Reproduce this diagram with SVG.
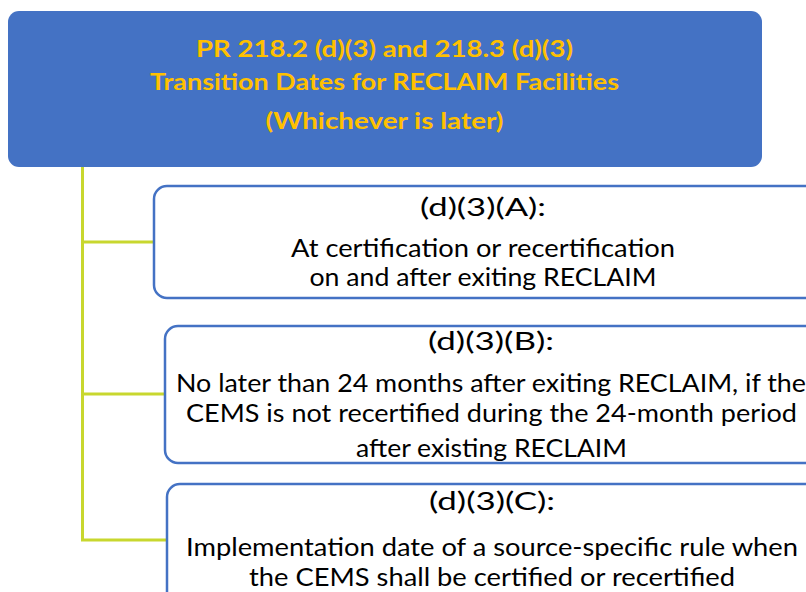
<svg xmlns="http://www.w3.org/2000/svg" width="806" height="592" viewBox="0 0 806 592">
  <style>
    .head { fill: #4472c4; }
    .card { fill: #ffffff; stroke: #4472c4; stroke-width: 2.5; }
    .link { fill: none; stroke: #c8d72e; stroke-width: 3; }
    .htxt { font-family: Lato, "Open Sans", "Liberation Sans", sans-serif; font-weight: bold; font-size: 22px; fill: #ffc000; text-anchor: middle; }
    .btxt { font-family: Lato, "Open Sans", "Liberation Sans", sans-serif; font-size: 24.5px; fill: #000000; text-anchor: middle; }
  </style>

  <!-- connectors: trunk and branches -->
  <g id="connectors">
    <path class="link" d="M82.5 167 V540"/>
    <path class="link" d="M81 242 H154"/>
    <path class="link" d="M81 394 H165"/>
    <path class="link" d="M81 540 H167"/>
  </g>

  <!-- title block -->
  <g id="title">
    <rect class="head" x="8" y="11" width="754" height="156" rx="11"/>
    <text class="htxt" x="384.5" y="57" textLength="377" lengthAdjust="spacingAndGlyphs">PR 218.2 (d)(3) and 218.3 (d)(3)</text>
    <text class="htxt" x="384.5" y="90" textLength="469" lengthAdjust="spacingAndGlyphs">Transition Dates for RECLAIM Facilities</text>
    <text class="htxt" x="384.5" y="129" textLength="238" lengthAdjust="spacingAndGlyphs">(Whichever is later)</text>
  </g>

  <!-- (A) -->
  <g id="nodeA">
    <rect class="card" x="154" y="186" width="670" height="112" rx="13"/>
    <text class="btxt" x="483" y="216" textLength="126" lengthAdjust="spacingAndGlyphs">(d)(3)(A):</text>
    <text class="btxt" x="483" y="257" textLength="384" lengthAdjust="spacingAndGlyphs">At certification or recertification</text>
    <text class="btxt" x="483" y="286" textLength="347" lengthAdjust="spacingAndGlyphs">on and after exiting RECLAIM</text>
  </g>

  <!-- (B) -->
  <g id="nodeB">
    <rect class="card" x="165" y="326" width="660" height="137" rx="13"/>
    <text class="btxt" x="491" y="350" textLength="126" lengthAdjust="spacingAndGlyphs">(d)(3)(B):</text>
    <text class="btxt" x="491" y="392" textLength="630" lengthAdjust="spacingAndGlyphs">No later than 24 months after exiting RECLAIM, if the</text>
    <text class="btxt" x="491.5" y="422" textLength="611" lengthAdjust="spacingAndGlyphs">CEMS is not recertified during the 24-month period</text>
    <text class="btxt" x="491.5" y="457" textLength="271" lengthAdjust="spacingAndGlyphs">after existing RECLAIM</text>
  </g>

  <!-- (C) -->
  <g id="nodeC">
    <rect class="card" x="167" y="484" width="660" height="140" rx="13"/>
    <text class="btxt" x="492" y="510" textLength="126" lengthAdjust="spacingAndGlyphs">(d)(3)(C):</text>
    <text class="btxt" x="492" y="556" textLength="612" lengthAdjust="spacingAndGlyphs">Implementation date of a source-specific rule when</text>
    <text class="btxt" x="492" y="586" textLength="486" lengthAdjust="spacingAndGlyphs">the CEMS shall be certified or recertified</text>
  </g>
</svg>
